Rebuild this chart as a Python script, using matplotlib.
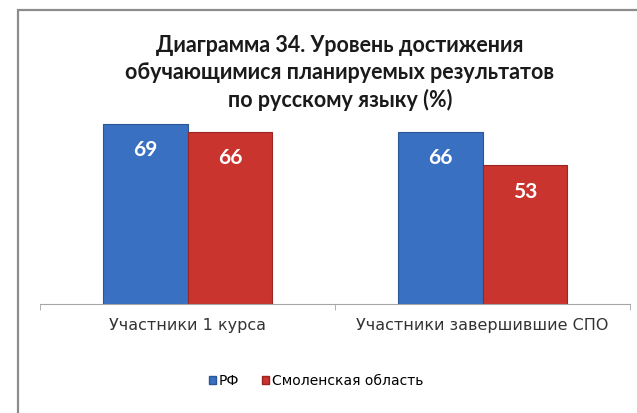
import matplotlib.pyplot as plt
from matplotlib.patches import Patch, Rectangle

categories = ["Участники 1 курса", "Участники завершившие СПО"]
series_names = ["РФ", "Смоленская область"]
rf_values = [69, 66]
smol_values = [66, 53]

colors = ["#3a70c2", "#c9342e"]
edges = ["#2a5596", "#9c2521"]
title = ("Диаграмма 34. Уровень достижения\n"
         "обучающимися планируемых результатов\n"
         "по русскому языку (%)")

fig = plt.figure(figsize=(6.37, 4.13), dpi=100)
fig.patch.set_facecolor("white")

# outer frame of the chart area
fig.add_artist(Rectangle((18 / 637, -0.01), 1.0, 1 - 10 / 413 + 0.01,
                         transform=fig.transFigure, fill=False,
                         edgecolor="#8c8c8c", linewidth=1.6))

ax = fig.add_axes([40 / 637, 109 / 413, 590 / 637, 196 / 413])
w = 0.288
x = range(len(categories))
for i, (vals, col, ec) in enumerate(zip([rf_values, smol_values], colors, edges)):
    pos = [xi + (i - 0.5) * w for xi in x]
    ax.bar(pos, vals, width=w, color=col, edgecolor=ec, linewidth=0.8)
    for p, v in zip(pos, vals):
        ax.text(p, v - 10, str(v), ha="center", va="center", color="white",
                fontsize=15, fontweight="bold", family="Lato")

ax.set_xlim(-0.5, 1.5)
ax.set_ylim(0, 75)
ax.set_yticks([])
for s in ["top", "right", "left"]:
    ax.spines[s].set_visible(False)
ax.spines["bottom"].set_color("#a6a6a6")
ax.set_xticks([-0.5, 0.5, 1.5], minor=True)
ax.tick_params(axis="x", which="minor", length=4, color="#a6a6a6")
ax.tick_params(axis="x", which="major", length=0, pad=10)
ax.set_xticks(list(x))
ax.set_xticklabels(categories, fontsize=11.5, family="DejaVu Sans", color="#333333")

fig.text(340 / 637, 1 - 73 / 413, title, ha="center", va="center",
         fontsize=15.5, fontweight="bold", family="Lato", linespacing=1.32,
         color="#1a1a1a")

handles = [Patch(facecolor=c, edgecolor=e) for c, e in zip(colors, edges)]
fig.legend(handles, series_names, loc="center", bbox_to_anchor=(316 / 637, 1 - 381 / 413),
           ncol=2, frameon=False, handlelength=0.55, handleheight=0.55,
           handletextpad=0.2, columnspacing=1.6,
           prop={"family": "DejaVu Sans", "size": 10})

fig.savefig("out.png", dpi=100, facecolor="white")
